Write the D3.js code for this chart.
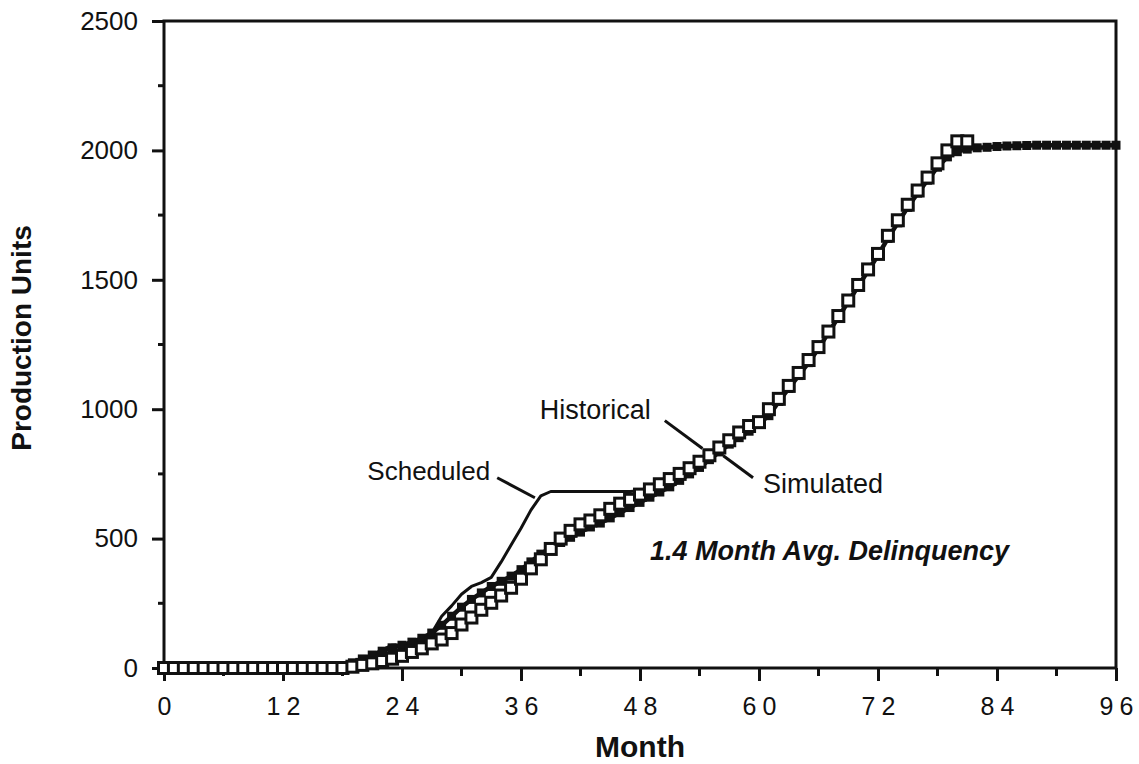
<!DOCTYPE html>
<html>
<head>
<meta charset="utf-8">
<script src="https://cdn.jsdelivr.net/npm/d3@7"></script>
<style>
  body { margin: 0; background: #fff; }
  text { font-family: "Liberation Sans", Arial, sans-serif; fill: #111; }
</style>
</head>
<body>
<div id="chart"></div>
<script>
// months 0..96
var months = d3.range(0, 97);

// Historical (open squares), months 0..81
var historical = [0,0,0,0,0,0,0,0,0,0,0,0,0,0,0,0,0,0,0,
  5,12,18,27,36,47,62,76,95,110,135,168,195,225,252,280,310,345,385,420,
  460,500,530,555,570,590,615,635,650,670,690,710,730,750,772,797,822,852,880,910,
  935,950,1000,1040,1090,1140,1190,1240,1300,1360,1420,1480,1540,1600,1670,1730,
  1790,1845,1895,1950,2000,2035,2035];

// Simulated (line with solid markers), months 0..96
var simulated = [0,0,0,0,0,0,0,0,0,0,0,0,0,0,0,0,0,0,0,
  20,35,50,65,78,88,100,115,135,165,200,235,265,290,315,335,355,380,410,440,
  465,485,505,525,545,560,580,600,620,640,660,680,700,725,750,775,805,835,865,890,
  915,945,975,1030,1080,1130,1180,1235,1295,1355,1415,1475,1535,1595,1660,1720,
  1780,1835,1885,1935,1975,1995,2005,2010,2012,2015,2017,2018,2019,2020,2020,2020,
  2020,2020,2020,2020,2020,2020];

// Scheduled (plain line), months 0..48
var scheduled = [0,0,0,0,0,0,0,0,0,0,0,0,0,0,0,0,0,0,0,
  20,35,50,70,88,90,95,110,135,200,240,285,315,330,350,410,475,540,610,665,
  682,682,682,682,682,682,682,682,682,685];

var xTicks = [0, 12, 24, 36, 48, 60, 72, 84, 96];
var xMinor = [6, 18, 30, 42, 54, 66, 78, 90];
var yTicks = [0, 500, 1000, 1500, 2000, 2500];
var yMinor = [250, 750, 1250, 1750, 2250];

var width = 1139, height = 764;
var margin = {left: 164, right: 23, top: 21, bottom: 96};

var x = d3.scaleLinear().domain([0, 96]).range([margin.left, width - margin.right]);
var y = d3.scaleLinear().domain([0, 2500]).range([height - margin.bottom, margin.top]);

var svg = d3.select("#chart").append("svg")
    .attr("width", width)
    .attr("height", height);

// frame
svg.append("rect")
    .attr("x", x(0)).attr("y", y(2500))
    .attr("width", x(96) - x(0)).attr("height", y(0) - y(2500))
    .attr("fill", "none").attr("stroke", "#111").attr("stroke-width", 3);

// x axis
var xAxis = svg.append("g").attr("transform", "translate(0," + y(0) + ")");
xAxis.call(d3.axisBottom(x).tickValues(xTicks).tickSize(13).tickFormat(d3.format("d")))
xAxis.select(".domain").remove();
xAxis.selectAll("line").attr("stroke", "#111").attr("stroke-width", 3);
xAxis.selectAll("text")
    .attr("dy", null).attr("y", 47)
    .style("font-size", "25px").style("letter-spacing", "6px")
    .attr("dx", "3px");
svg.append("g").selectAll("line").data(xMinor).join("line")
    .attr("x1", d => x(d)).attr("x2", d => x(d))
    .attr("y1", y(0)).attr("y2", y(0) + 8)
    .attr("stroke", "#111").attr("stroke-width", 3);

// y axis
var yAxis = svg.append("g").attr("transform", "translate(" + x(0) + ",0)");
yAxis.call(d3.axisLeft(y).tickValues(yTicks).tickSize(12).tickFormat(d3.format("d")));
yAxis.select(".domain").remove();
yAxis.selectAll("line").attr("stroke", "#111").attr("stroke-width", 3);
yAxis.selectAll("text").attr("x", -26).style("font-size", "26px");
svg.append("g").selectAll("line").data(yMinor).join("line")
    .attr("x1", x(0) - 6).attr("x2", x(0))
    .attr("y1", d => y(d)).attr("y2", d => y(d))
    .attr("stroke", "#111").attr("stroke-width", 3);

// axis titles
svg.append("text")
    .attr("x", x(48)).attr("y", 757)
    .attr("text-anchor", "middle")
    .style("font-size", "30px").style("font-weight", "bold")
    .text("Month");
svg.append("text")
    .attr("transform", "translate(31," + 338 + ")rotate(-90)")
    .attr("text-anchor", "middle")
    .style("font-size", "28px").style("font-weight", "bold")
    .text("Production Units");

// series
var line = d3.line().x((d, i) => x(i)).y(d => y(d));

svg.append("path").datum(scheduled)
    .attr("d", line)
    .attr("fill", "none").attr("stroke", "#111").attr("stroke-width", 3)
    .attr("stroke-linejoin", "round");

svg.append("path").datum(simulated)
    .attr("d", line)
    .attr("fill", "none").attr("stroke", "#111").attr("stroke-width", 4.5)
    .attr("stroke-linejoin", "round");

svg.append("g").selectAll("rect").data(simulated).join("rect")
    .attr("x", (d, i) => x(i) - 4.5).attr("y", d => y(d) - 4.5)
    .attr("width", 9).attr("height", 9)
    .attr("fill", "#111");

svg.append("g").selectAll("rect").data(historical).join("rect")
    .attr("x", (d, i) => x(i) - 5.5).attr("y", d => y(d) - 5.5)
    .attr("width", 11).attr("height", 11)
    .attr("fill", "#fff").attr("stroke", "#111").attr("stroke-width", 3);

// annotations
function pointer(m1, v1, m2, v2) {
  svg.append("line")
      .attr("x1", x(m1)).attr("y1", y(v1))
      .attr("x2", x(m2)).attr("y2", y(v2))
      .attr("stroke", "#111").attr("stroke-width", 3);
}
pointer(33.6, 735, 37.4, 658);
pointer(50.5, 956, 54.3, 848);
pointer(56.4, 820, 59.4, 735);

svg.append("text")
    .attr("x", x(32.9)).attr("y", y(762)).attr("dy", "0.35em")
    .attr("text-anchor", "end").style("font-size", "26px")
    .text("Scheduled");
svg.append("text")
    .attr("x", x(37.9)).attr("y", y(998)).attr("dy", "0.35em")
    .style("font-size", "27px")
    .text("Historical");
svg.append("text")
    .attr("x", x(60.4)).attr("y", y(712)).attr("dy", "0.35em")
    .style("font-size", "27px")
    .text("Simulated");
svg.append("text")
    .attr("x", x(49)).attr("y", y(453)).attr("dy", "0.35em")
    .style("font-size", "27px").style("font-weight", "bold").style("font-style", "italic")
    .text("1.4 Month Avg. Delinquency");
</script>
</body>
</html>
